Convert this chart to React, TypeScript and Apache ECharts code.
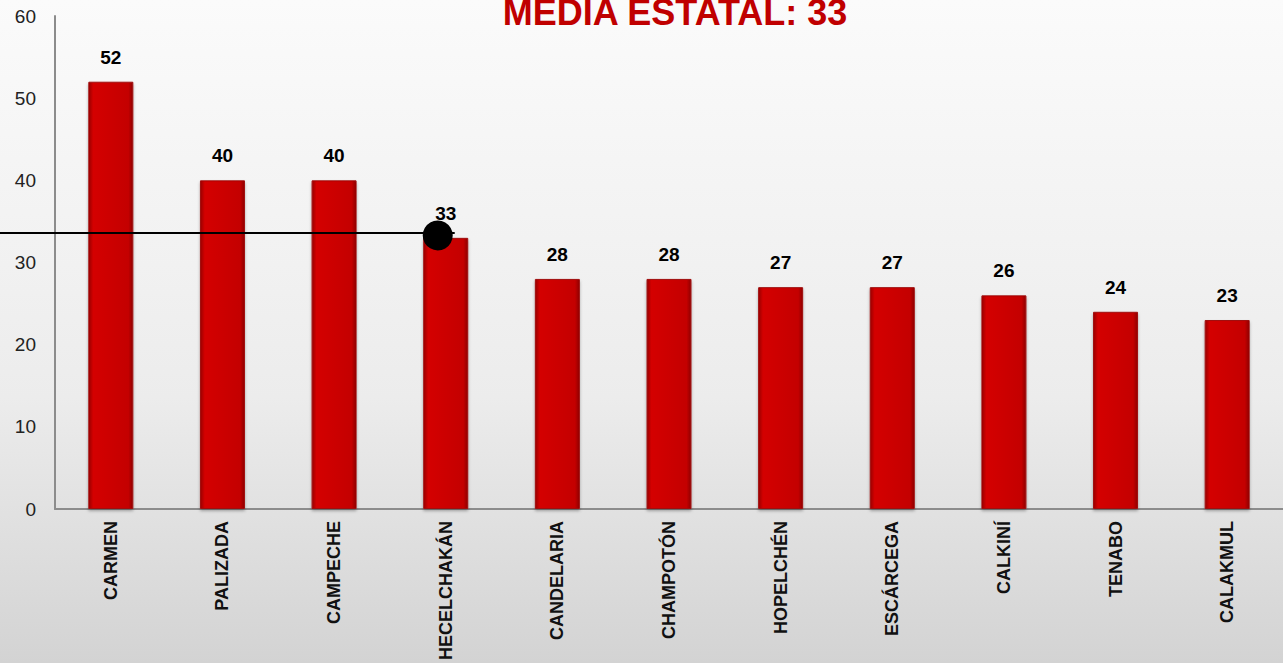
import React, { useEffect, useRef } from "react";
import * as echarts from "echarts";

const categories = [
  "CARMEN",
  "PALIZADA",
  "CAMPECHE",
  "HECELCHAKÁN",
  "CANDELARIA",
  "CHAMPOTÓN",
  "HOPELCHÉN",
  "ESCÁRCEGA",
  "CALKINÍ",
  "TENABO",
  "CALAKMUL",
];
const values = [52, 40, 40, 33, 28, 28, 27, 27, 26, 24, 23];
const meanLineValue = 33.6;
const meanMarkerValue = 33.3;
const meanCategoryIndex = 3;
const titleText = "MEDIA ESTATAL: 33";
const yMin = 0;
const yMax = 60;
const yInterval = 10;

export default function App() {
  const ref = useRef<HTMLDivElement>(null);

  useEffect(() => {
    if (!ref.current) return;
    document.body.style.margin = "0";
    const chart = echarts.init(ref.current, null, { renderer: "svg" });
    const font = "Arial, 'Liberation Sans', sans-serif";
    const option: any = {
      animation: false,
      backgroundColor: "transparent",
      grid: { left: 55, right: -4, top: 16, bottom: 153, containLabel: false },
      xAxis: {
        type: "category",
        data: categories,
        axisLine: { show: true, lineStyle: { color: "#8c8c8c", width: 2 } },
        axisTick: { show: false },
        axisLabel: {
          rotate: 90,
          interval: 0,
          margin: 12,
          fontFamily: font,
          fontWeight: "bold",
          fontSize: 18,
          color: "#111",
        },
        splitLine: { show: false },
      },
      yAxis: {
        type: "value",
        min: yMin,
        max: yMax,
        interval: yInterval,
        axisLine: { show: true, lineStyle: { color: "#8c8c8c", width: 2 } },
        axisTick: { show: false },
        splitLine: { show: false },
        axisLabel: {
          margin: 19,
          fontFamily: font,
          fontSize: 19,
          color: "#222",
        },
      },
      series: [
        {
          type: "bar",
          data: values,
          barWidth: 45,
          itemStyle: {
            color: {
              type: "linear",
              x: 0,
              y: 0,
              x2: 1,
              y2: 0,
              colorStops: [
                { offset: 0, color: "#9a0000" },
                { offset: 0.1, color: "#d40000" },
                { offset: 0.5, color: "#cc0000" },
                { offset: 0.9, color: "#c40000" },
                { offset: 1, color: "#900000" },
              ],
            },
            borderColor: "#a01010",
            borderWidth: 1,
            shadowBlur: 3,
            shadowColor: "rgba(0,0,0,0.3)",
            shadowOffsetY: 2,
          },
          label: {
            show: true,
            position: "top",
            distance: 15,
            fontFamily: font,
            fontWeight: "bold",
            fontSize: 19,
            color: "#000",
          },
          z: 2,
        },
        {
          type: "scatter",
          data: categories.map((_, i) => (i === meanCategoryIndex ? meanMarkerValue : null)),
          symbol: "circle",
          symbolSize: 30,
          symbolOffset: [-8, 0],
          itemStyle: { color: "#000", opacity: 1 },
          z: 5,
        },
      ],
    };
    chart.setOption(option);

    const p = chart.convertToPixel({ gridIndex: 0 }, [meanCategoryIndex, meanLineValue]) as number[];
    chart.setOption({
      graphic: [
        {
          type: "line",
          shape: { x1: 0, y1: p[1], x2: p[0] + 9, y2: p[1] },
          style: { stroke: "#000", lineWidth: 2 },
          z: 4,
        },
        {
          type: "text",
          x: 675,
          y: -6,
          style: {
            text: titleText,
            fill: "#c00000",
            font: `bold 36px ${font}`,
            textAlign: "center",
            textVerticalAlign: "top",
          },
          z: 6,
        },
      ],
    });

    return () => chart.dispose();
  }, []);

  return (
    <div
      ref={ref}
      style={{
        position: "fixed",
        left: 0,
        top: 0,
        width: 1283,
        height: 663,
        background: "linear-gradient(to bottom, #fbfbfb 0%, #ececec 60%, #d3d3d3 100%)",
      }}
    />
  );
}
